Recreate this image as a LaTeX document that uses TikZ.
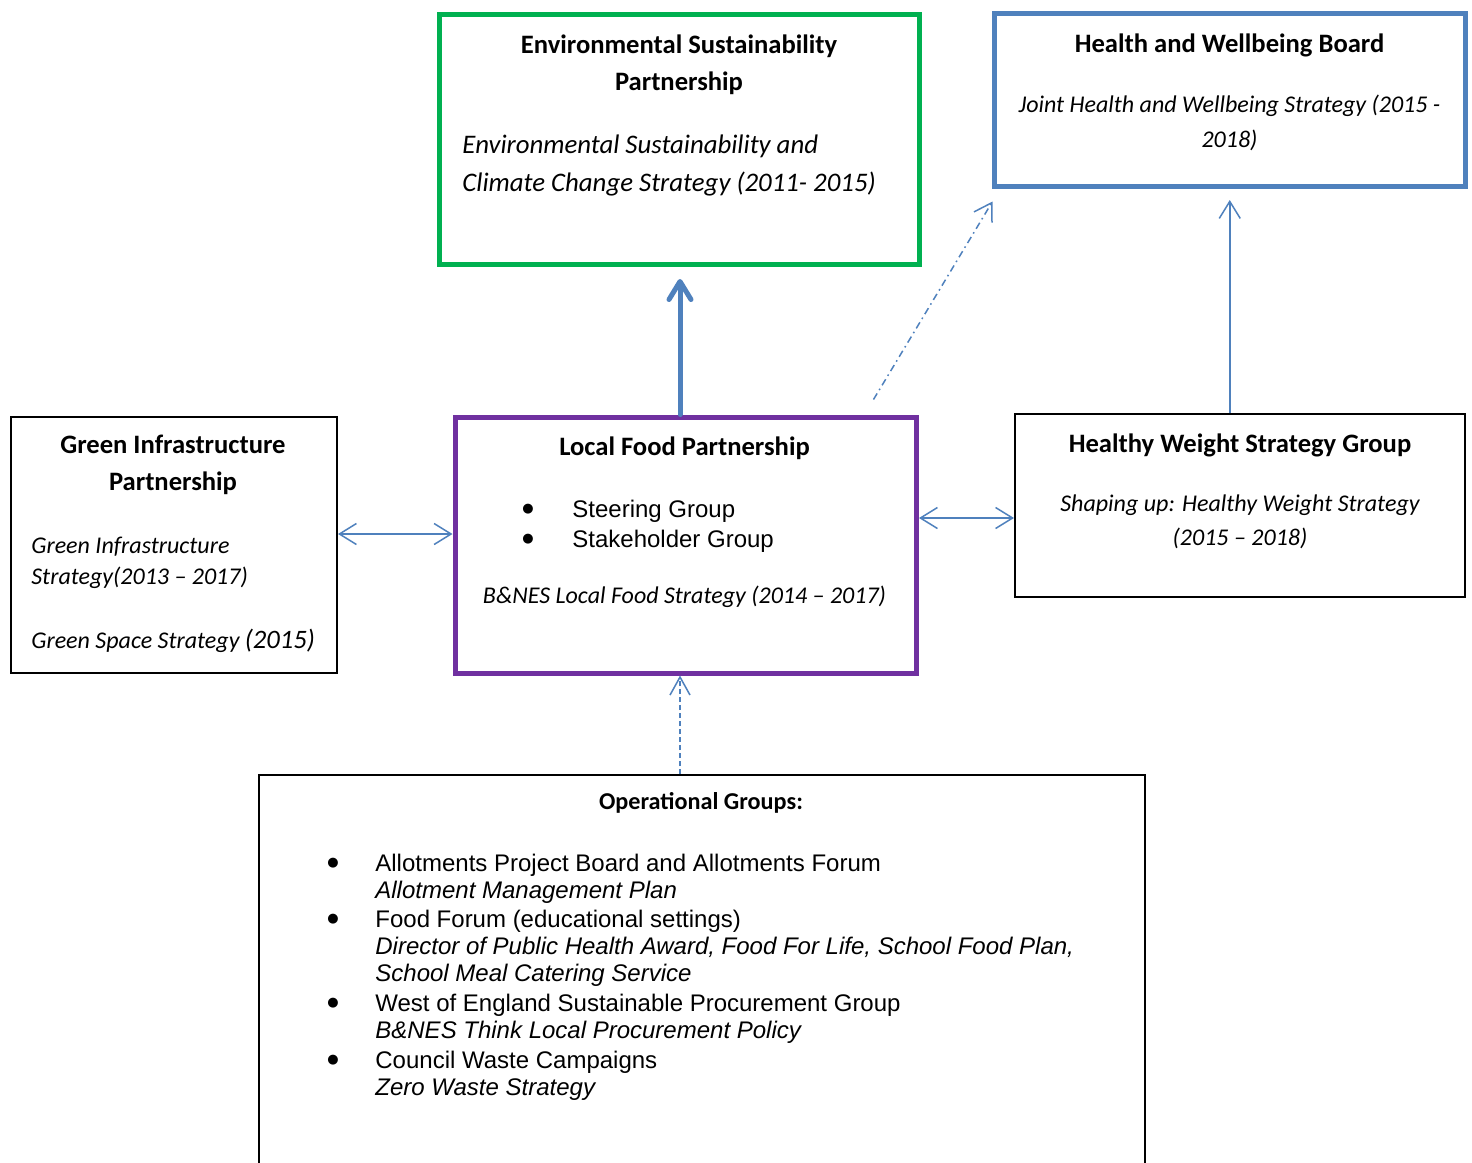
\documentclass[tikz,border=0pt]{standalone}
\usepackage{fontspec}
\setmainfont{Carlito}
\newfontfamily\arialf{Liberation Sans}
\newfontfamily\dejavuf{DejaVu Sans}
\usetikzlibrary{arrows.meta}
\definecolor{esgreen}{HTML}{00B050}
\definecolor{hwblue}{HTML}{4F81BD}
\definecolor{lfpurple}{HTML}{7030A0}
\tikzset{
  boxthin/.style={draw=black,line width=1pt,rectangle,inner sep=0pt},
  boxthick/.style={rectangle,line width=2.5pt,inner sep=0pt},
  ttl/.style={font=\bfseries\fontsize{13.3}{15}\selectfont,anchor=base,inner sep=0pt},
  ttlsmall/.style={font=\bfseries\fontsize{12.1}{14}\selectfont,anchor=base,inner sep=0pt},
  itl/.style={font=\itshape\fontsize{12}{14}\selectfont,inner sep=0pt},
  itlbig/.style={font=\itshape\fontsize{13.4}{15}\selectfont,inner sep=0pt},
  arl/.style={font=\arialf\fontsize{12}{14}\selectfont,inner sep=0pt,anchor=base west},
  arli/.style={font=\arialf\itshape\fontsize{12}{14}\selectfont,inner sep=0pt,anchor=base west},
  bul/.style={font=\dejavuf\fontsize{6.5}{8}\selectfont,inner sep=0pt,anchor=center},
  barb/.tip={Straight Barb[length=8.5pt,width=10.5pt]},
  thinconn/.style={draw=hwblue,line width=0.75pt},
}
\begin{document}
\begin{tikzpicture}[x=0.5pt,y=-0.5pt]
\clip (0,0) rectangle (1472,1162);
\fill[white] (0,0) rectangle (1472,1162);

% boxes
\node[boxthick,draw=esgreen,minimum width=240.25pt,minimum height=125pt] (esp) at (679.25,139.5) {};
\node[boxthick,draw=hwblue,minimum width=235.25pt,minimum height=86.5pt] (hwb) at (1229.75,100) {};
\node[boxthick,draw=lfpurple,minimum width=230.75pt,minimum height=128pt] (lfp) at (685.75,545) {};
\node[boxthin,minimum width=163pt,minimum height=128.25pt] (gip) at (174,544.75) {};
\node[boxthin,minimum width=225pt,minimum height=91.5pt] (hwsg) at (1240,505.5) {};
\node[boxthin,minimum width=443pt,minimum height=212.5pt] (op) at (702,987.5) {};

% ESP text
\node[ttl] (esp1) at (679,53) {Environmental Sustainability};
\node[ttl] (esp2) at (679,90) {Partnership};
\node[itlbig,anchor=base west] (esp3) at (462,153) {Environmental Sustainability and};
\node[itlbig,anchor=base west] (esp4) at (462,191) {Climate Change Strategy (2011- 2015)};

% HWB text
\node[ttl] (hwb1) at (1229.5,52) {Health and Wellbeing Board};
\node[itl,anchor=base] (hwb2) at (1229.5,112) {Joint Health and Wellbeing Strategy (2015 -};
\node[itl,anchor=base] (hwb3) at (1229.5,147) {2018)};

% LFP text
\node[ttl] (lfp1) at (684.5,455) {Local Food Partnership};
\node[bul] (lfpb1) at (528,509.5) {●};
\node[bul] (lfpb2) at (528,539.5) {●};
\node[arl] (lfp2) at (572,517) {Steering Group};
\node[arl] (lfp3) at (572,547) {Stakeholder Group};
\node[itl,anchor=base] (lfp4) at (684.5,603) {B\&NES Local Food Strategy (2014 – 2017)};

% GIP text
\node[ttl] (gip1) at (173,453) {Green Infrastructure};
\node[ttl] (gip2) at (173,490) {Partnership};
\node[itl,anchor=base west] (gip3) at (31,553) {Green Infrastructure};
\node[itl,anchor=base west] (gip4) at (31,584) {Strategy(2013 – 2017)};
\node[itl,anchor=base west] (gip5) at (31,648) {Green Space Strategy {\fontsize{13.3}{15}\selectfont(2015)}};

% HWSG text
\node[ttl] (hwsg1) at (1240,452) {Healthy Weight Strategy Group};
\node[itl,anchor=base] (hwsg2) at (1240,511) {Shaping up: Healthy Weight Strategy};
\node[itl,anchor=base] (hwsg3) at (1240,545) {(2015 – 2018)};

% Operational groups text
\node[ttlsmall] (op0) at (701,809) {Operational Groups:};
\node[bul] (opb1) at (333,863) {●};
\node[arl] (op1) at (375,871) {Allotments Project Board and Allotments Forum};
\node[arli] (op2) at (375,898) {Allotment Management Plan};
\node[bul] (opb2) at (333,919) {●};
\node[arl] (op3) at (375,927) {Food Forum (educational settings)};
\node[arli] (op4) at (375,954) {Director of Public Health Award, Food For Life, School Food Plan,};
\node[arli] (op5) at (375,981) {School Meal Catering Service};
\node[bul] (opb3) at (333,1003) {●};
\node[arl] (op6) at (375,1011) {West of England Sustainable Procurement Group};
\node[arli] (op7) at (375,1038) {B\&NES Think Local Procurement Policy};
\node[bul] (opb4) at (333,1060) {●};
\node[arl] (op8) at (375,1068) {Council Waste Campaigns};
\node[arli] (op9) at (375,1095) {Zero Waste Strategy};

% connectors
\draw[draw=hwblue,line width=2.5pt,line cap=round,
  -{Straight Barb[length=9pt,width=11pt,line cap=round,line join=round]},shorten >=6pt]
  (680,0 |- lfp.north) -- (680,0 |- esp.south);
\coordinate (ddS) at ([shift={(-45.5,-15)}]lfp.north east);
\coordinate (ddE) at ([shift={(0.5,12.5)}]hwb.south west);
\draw[thinconn,dash pattern=on 3.5pt off 2pt on 0.8pt off 2pt,-barb] (ddS) -- (ddE);
\draw[thinconn,-barb,shorten >=5.5pt] (hwb.south |- hwsg.north) -- (hwb.south);
\draw[thinconn,barb-barb] (gip.east |- 0,534) -- (lfp.west |- 0,534);
\draw[thinconn,barb-barb] (lfp.east |- 0,518) -- (hwsg.west |- 0,518);
\draw[thinconn,dash pattern=on 2.5pt off 1.5pt,-{Straight Barb[length=9pt,width=10pt]}] (680,0 |- op.north) -- (680,0 |- lfp.south);
\end{tikzpicture}
\end{document}
